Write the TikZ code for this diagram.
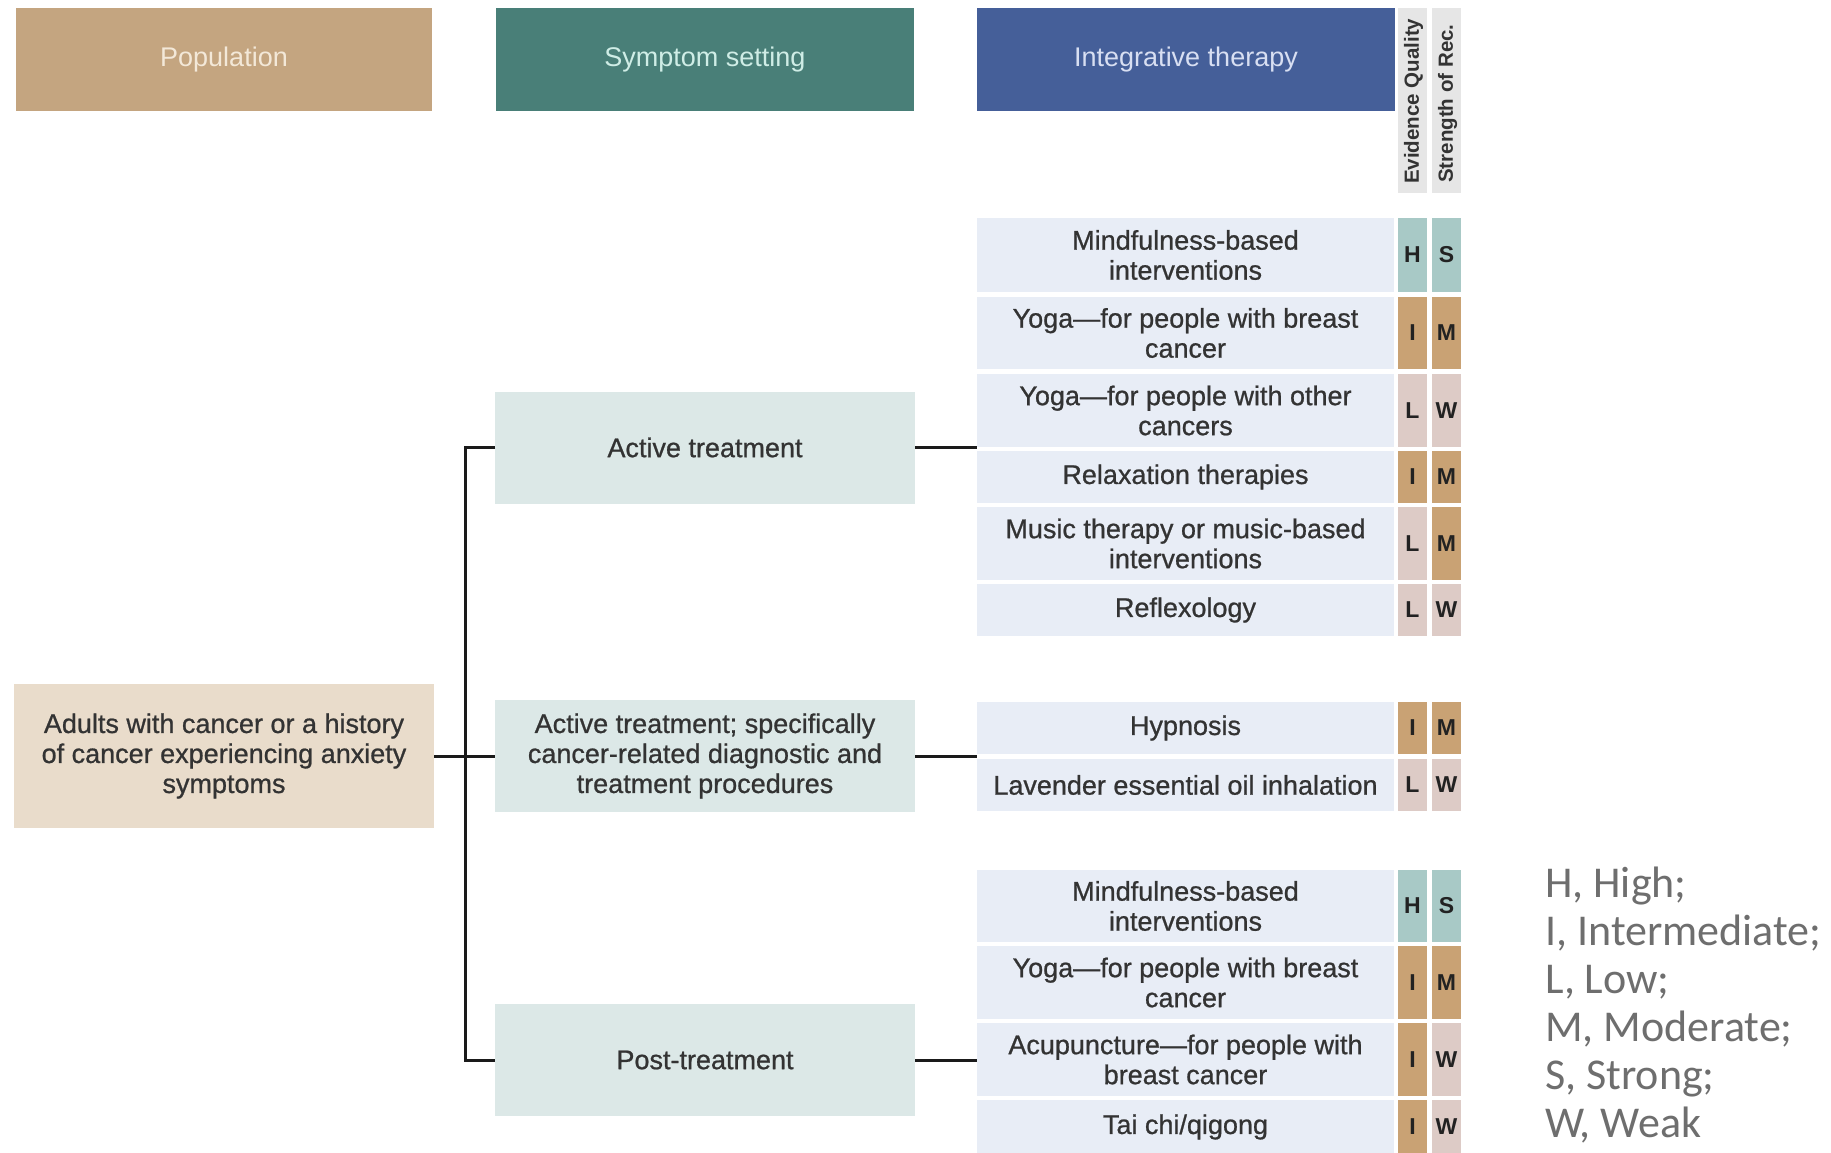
\documentclass[tikz,border=0pt]{standalone}
\usepackage{fontspec}
\setmainfont{Liberation Sans}
\newfontfamily\medfont{Liberation Sans}[Ligatures=TeX,FakeBold=0.8]
\newfontfamily\legfont{Carlito}
\definecolor{txt}{HTML}{333333}
\definecolor{celltxt}{HTML}{222222}
\definecolor{legc}{HTML}{6E6E6E}
\definecolor{pophd}{HTML}{C4A580}
\definecolor{pophdtxt}{HTML}{F3E8D8}
\definecolor{symhd}{HTML}{497F78}
\definecolor{symhdtxt}{HTML}{CFEDE6}
\definecolor{inthd}{HTML}{455F99}
\definecolor{inthdtxt}{HTML}{D8DFF2}
\definecolor{graycol}{HTML}{E6E6E6}
\definecolor{rowbg}{HTML}{E8EDF6}
\definecolor{symbg}{HTML}{DCE8E7}
\definecolor{popbg}{HTML}{E9DCCB}
\definecolor{cellH}{HTML}{A8C9C6}
\definecolor{cellS}{HTML}{A8C9C6}
\definecolor{cellI}{HTML}{C9A274}
\definecolor{cellM}{HTML}{C9A274}
\definecolor{cellL}{HTML}{DDCBC6}
\definecolor{cellW}{HTML}{DDCBC6}
\definecolor{linec}{HTML}{1A1A1A}
\newcommand\trow[6]{%
  \node[rowbox, minimum height=#3] (#1) at (1185.5,#2) {#4};
  \node[cellbox, minimum height=#3, fill=cell#5] (#1eq) at (1412.5,#2) {#5};
  \node[cellbox, minimum height=#3, fill=cell#6] (#1sr) at (1446.5,#2) {#6};}
\begin{document}
\begin{tikzpicture}[x=1pt,y=-1pt,
  base/.style={rectangle, inner sep=0pt, outer sep=0pt, align=center,
    font=\medfont\fontsize{27}{30}\selectfont, text=txt},
  hdr/.style={base, font=\fontsize{27}{30}\selectfont, minimum width=418pt, minimum height=103pt},
  rowbox/.style={base, fill=rowbg, minimum width=417pt},
  cellbox/.style={rectangle, inner sep=0pt, outer sep=0pt, minimum width=29pt,
    font=\bfseries\fontsize{23}{25}\selectfont, text=celltxt},
  symbox/.style={base, fill=symbg, minimum width=420pt, minimum height=112pt},
  gcol/.style={rectangle, inner sep=0pt, fill=graycol, minimum width=29pt, minimum height=185pt},
  rothdr/.style={rotate=90, anchor=west, inner sep=0pt,
    font=\bfseries\fontsize{20.5}{22}\selectfont, text=txt},
  leg/.style={anchor=base west, inner sep=0pt, font=\legfont\fontsize{44}{48}\selectfont, text=legc},
  conn/.style={draw=linec, line width=3pt}]
\useasboundingbox (0,0) rectangle (1831,1153);
\fill[white] (0,0) rectangle (1831,1153);
% headers
\node[hdr, fill=pophd, text=pophdtxt, minimum width=416pt] (pophead) at (224,59.5) {Population};
\node[hdr, fill=symhd, text=symhdtxt] (symhead) at (705,59.5) {Symptom setting};
\node[hdr, fill=inthd, text=inthdtxt] (inthead) at (1186,59.5) {Integrative therapy};
\node[gcol] (eqcol) at (1412.5,100.5) {};
\node[gcol] (srcol) at (1446.5,100.5) {};
\node[rothdr] (eqtxt) at (1413.5,184) {Evidence Quality};
\node[rothdr] (srtxt) at (1447.5,183) {Strength of Rec.};
% population
\node[base, fill=popbg, minimum width=420pt, minimum height=144pt] (pop) at (224,756)
  {Adults with cancer or a history\\of cancer experiencing anxiety\\symptoms};
% symptom settings
\node[symbox] (at) at (705,447.5) {Active treatment};
\node[symbox] (at2) at (705,756) {Active treatment; specifically\\cancer-related diagnostic and\\treatment procedures};
\node[symbox] (pt) at (705,1060) {Post-treatment};
% therapy rows
\trow{r1}{255}{74pt}{Mindfulness-based\\interventions}{H}{S}
\trow{r2}{333}{72pt}{Yoga—for people with breast\\cancer}{I}{M}
\trow{r3}{410.5}{73pt}{Yoga—for people with other\\cancers}{L}{W}
\trow{r4}{477}{52pt}{Relaxation therapies}{I}{M}
\trow{r5}{543.5}{73pt}{Music therapy or music-based\\interventions}{L}{M}
\trow{r6}{610}{52pt}{Reflexology}{L}{W}
\trow{r7}{728}{52pt}{Hypnosis}{I}{M}
\trow{r8}{785}{52pt}{Lavender essential oil inhalation}{L}{W}
\trow{r9}{906}{72pt}{Mindfulness-based\\interventions}{H}{S}
\trow{r10}{982.5}{73pt}{Yoga—for people with breast\\cancer}{I}{M}
\trow{r11}{1059.5}{73pt}{Acupuncture—for people with\\breast cancer}{I}{W}
\trow{r12}{1127}{54pt}{Tai chi/qigong}{I}{W}
% connectors
\coordinate (bus) at (465,756);
\draw[conn] (pop.east) -- (at2.west);
\draw[conn] (at.west) -| (bus) |- (pt.west);
\draw[conn] (at.east) -- (at.east -| r1.west);
\draw[conn] (at2.east) -- (at2.east -| r7.west);
\draw[conn] (pt.east) -- (pt.east -| r9.west);
% legend
\node[leg] (l1) at (1545,897) {H, High;};
\node[leg] (l2) at (1545,945) {I, Intermediate;};
\node[leg] (l3) at (1545,993) {L, Low;};
\node[leg] (l4) at (1545,1041) {M, Moderate;};
\node[leg] (l5) at (1545,1089) {S, Strong;};
\node[leg] (l6) at (1545,1137) {W, Weak};
\end{tikzpicture}
\end{document}
